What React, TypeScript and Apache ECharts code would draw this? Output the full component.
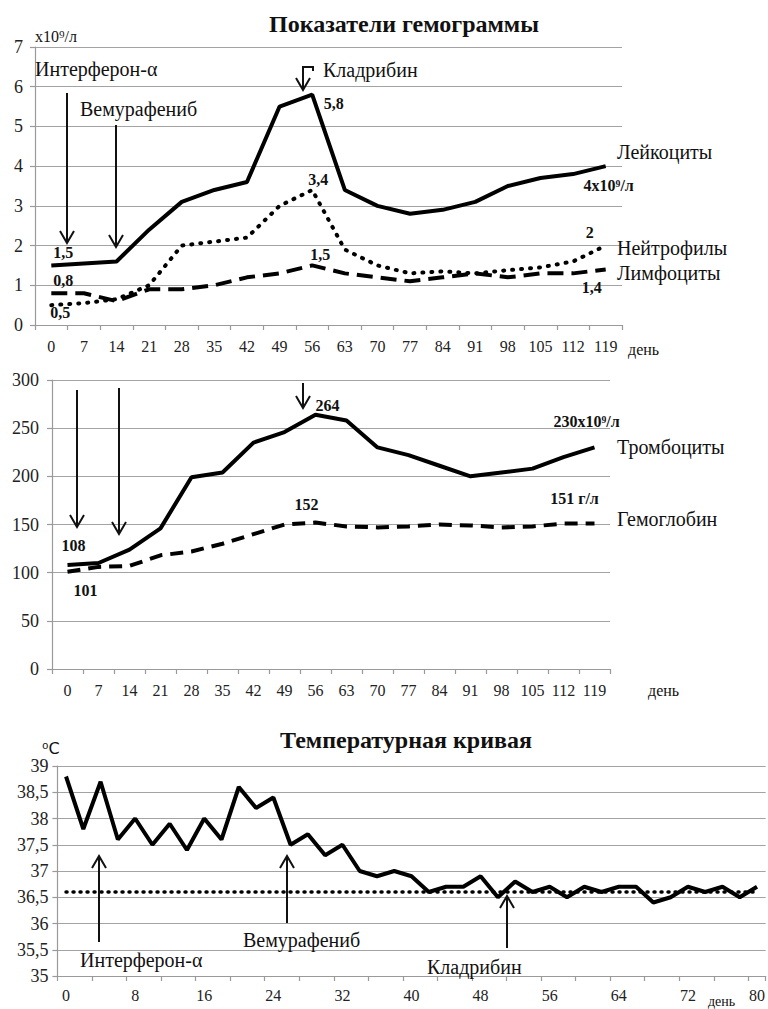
import React, { useEffect, useRef } from "react";
import * as echarts from "echarts";

// ---------- DATA ----------
const hemoDays = ["0", "7", "14", "21", "28", "35", "42", "49", "56", "63", "70", "77", "84", "91", "98", "105", "112", "119"];
const leukocytes = [1.5, 1.55, 1.6, 2.4, 3.1, 3.4, 3.6, 5.5, 5.8, 3.4, 3.0, 2.8, 2.9, 3.1, 3.5, 3.7, 3.8, 4.0];
const neutrophils = [0.5, 0.55, 0.65, 1.0, 2.0, 2.1, 2.2, 3.0, 3.4, 1.9, 1.5, 1.3, 1.35, 1.3, 1.38, 1.45, 1.6, 2.0];
const lymphocytes = [0.8, 0.8, 0.6, 0.9, 0.9, 1.0, 1.2, 1.3, 1.5, 1.3, 1.2, 1.1, 1.2, 1.3, 1.2, 1.3, 1.3, 1.4];
const platelets = [108, 110, 124, 146, 199, 204, 235, 246, 264, 258, 230, 222, 211, 200, 204, 208, 220, 230];
const hemoglobin = [101, 106, 107, 118, 122, 130, 140, 150, 152, 148, 147, 148, 150, 149, 147, 148, 151, 151];

const tempDays = ["0", "2", "4", "6", "8", "10", "12", "14", "16", "18", "20", "22", "24", "26", "28", "30", "32", "34", "36", "38", "40", "42", "44", "46", "48", "50", "52", "54", "56", "58", "60", "62", "64", "66", "68", "70", "72", "74", "76", "78", "80"];
const temperature = [38.8, 37.8, 38.7, 37.6, 38.0, 37.5, 37.9, 37.4, 38.0, 37.6, 38.6, 38.2, 38.4, 37.5, 37.7, 37.3, 37.5, 37.0, 36.9, 37.0, 36.9, 36.6, 36.7, 36.7, 36.9, 36.5, 36.8, 36.6, 36.7, 36.5, 36.7, 36.6, 36.7, 36.7, 36.4, 36.5, 36.7, 36.6, 36.7, 36.5, 36.7];
const normalTemp = 36.6;

// value labels: [series, dataIndex, text]
const valueLabels: [string, number, string][] = [
  ["leuk", 0, "1,5"],
  ["leuk", 8, "5,8"],
  ["leuk", 17, "4x10⁹/л"],
  ["neut", 0, "0,5"],
  ["neut", 8, "3,4"],
  ["neut", 17, "2"],
  ["lymph", 0, "0,8"],
  ["lymph", 8, "1,5"],
  ["lymph", 17, "1,4"],
  ["plt", 0, "108"],
  ["plt", 8, "264"],
  ["plt", 17, "230x10⁹/л"],
  ["hb", 0, "101"],
  ["hb", 8, "152"],
  ["hb", 17, "151 г/л"],
];

// ---------- STYLE ----------
const SERIF = "Liberation Serif, Times New Roman, serif";
const GRID_COLOR = "#a3a3a3";
const AXIS_COLOR = "#9a9a9a";

const labelPlacement: Record<string, { position: string; offset: number[] }> = {
  "leuk-0": { position: "top", offset: [12, 1] },
  "leuk-8": { position: "right", offset: [6, 9] },
  "leuk-17": { position: "bottom", offset: [3, 6] },
  "neut-0": { position: "bottom", offset: [9, -6] },
  "neut-8": { position: "top", offset: [6, 3] },
  "neut-17": { position: "top", offset: [-16, 0] },
  "lymph-0": { position: "top", offset: [12, 1] },
  "lymph-8": { position: "top", offset: [8, 3] },
  "lymph-17": { position: "bottom", offset: [-14, 5] },
  "plt-0": { position: "top", offset: [6, -6] },
  "plt-8": { position: "top", offset: [12, 4] },
  "plt-17": { position: "top", offset: [-8, -12] },
  "hb-0": { position: "bottom", offset: [18, 5] },
  "hb-8": { position: "top", offset: [-9, -5] },
  "hb-17": { position: "top", offset: [-20, -12] },
};

function buildData(key: string, values: number[]) {
  return values.map((v, i) => {
    const lab = valueLabels.find((l) => l[0] === key && l[1] === i);
    if (!lab) return v;
    const p = labelPlacement[key + "-" + i];
    return {
      value: v,
      label: {
        show: true,
        formatter: lab[2],
        position: p.position,
        offset: p.offset,
        fontFamily: SERIF,
        fontWeight: "bold",
        fontSize: 16,
        color: "#111",
      },
    };
  });
}

function txt(text: string, x: number, y: number, size = 20, opts: any = {}) {
  return {
    type: "text",
    x,
    y,
    style: {
      text,
      font: `${opts.bold ? "bold " : ""}${size}px ${opts.family || SERIF}`,
      fill: "#111",
      textAlign: opts.align || "left",
      align: opts.align || "left",
      textVerticalAlign: "middle",
      verticalAlign: "middle",
    },
    z: 100,
  };
}

function arrow(x: number, y1: number, y2: number) {
  const dir = y2 > y1 ? -1 : 1;
  return [
    {
      type: "line",
      shape: { x1: x, y1, x2: x, y2 },
      style: { stroke: "#111", lineWidth: 2 },
      z: 100,
    },
    {
      type: "polyline",
      shape: { points: [[x - 7, y2 + dir * 12], [x, y2], [x + 7, y2 + dir * 12]] },
      style: { stroke: "#111", lineWidth: 2, fill: null },
      z: 100,
    },
  ];
}

const hiddenSymbol = {
  showSymbol: true,
  symbol: "circle",
  symbolSize: 1,
  itemStyle: { color: "rgba(0,0,0,0)" },
  emphasis: { disabled: true },
};

export default function App() {
  const ref = useRef<HTMLDivElement>(null);

  useEffect(() => {
    if (!ref.current) return;
    const chart = echarts.init(ref.current, null, { renderer: "svg" });

    const commonX = (data: string[], gridIndex: number, extra: any = {}) => ({
      type: "category",
      gridIndex,
      data,
      boundaryGap: true,
      axisLine: { show: true, lineStyle: { color: AXIS_COLOR, width: 1.2 } },
      axisTick: { show: true, length: 5, interval: 0, lineStyle: { color: AXIS_COLOR, width: 1.2 }, ...(extra.tick || {}) },
      axisLabel: {
        fontFamily: SERIF,
        fontSize: 16,
        color: "#222",
        margin: 13,
        interval: 0,
        ...(extra.label || {}),
      },
      splitLine: { show: false },
    });

    const commonY = (gridIndex: number, min: number, max: number, interval: number, extra: any = {}) => ({
      type: "value",
      gridIndex,
      min,
      max,
      interval,
      axisLine: { show: true, lineStyle: { color: AXIS_COLOR, width: 1.2 } },
      axisTick: { show: true, length: 5, lineStyle: { color: AXIS_COLOR, width: 1.2 } },
      axisLabel: {
        fontFamily: SERIF,
        fontSize: 18,
        color: "#222",
        margin: 10,
        formatter: (v: number) => String(v).replace(".", ","),
        ...(extra.label || {}),
      },
      splitLine: { show: true, lineStyle: { color: GRID_COLOR, width: 1.2 } },
    });

    const graphics: any[] = [
      txt("Показатели гемограммы", 404, 24, 24, { bold: true, align: "center" }),
      txt("x10⁹/л", 35, 36, 16),
      txt("Интерферон-α", 35, 69, 20),
      txt("Вемурафениб", 80, 109, 20),
      txt("Кладрибин", 323, 70, 20),
      txt("Лейкоциты", 617, 152, 20),
      txt("Нейтрофилы", 617, 248, 20),
      txt("Лимфоциты", 617, 273, 20),
      txt("день", 628, 349, 16),
      ...arrow(67, 93, 243),
      ...arrow(116, 125, 247),
      {
        type: "polyline",
        shape: { points: [[313, 71], [313, 67], [303, 67], [303, 89]] },
        style: { stroke: "#111", lineWidth: 2, fill: null },
        z: 100,
      },
      {
        type: "polyline",
        shape: { points: [[296, 78], [303, 90], [310, 78]] },
        style: { stroke: "#111", lineWidth: 2, fill: null },
        z: 100,
      },
      txt("Тромбоциты", 617, 447, 20),
      txt("Гемоглобин", 617, 519, 20),
      txt("день", 648, 690, 16),
      ...arrow(77, 390, 527),
      ...arrow(119, 388, 534),
      ...arrow(303, 383, 408),
      txt("Температурная кривая", 406, 740, 24, { bold: true, align: "center" }),
      txt("⁰C", 42, 748, 16, { family: "DejaVu Sans, sans-serif" }),
      txt("Интерферон-α", 80, 960, 20),
      txt("Вемурафениб", 243, 940, 20),
      txt("Кладрибин", 427, 967, 20),
      txt("день", 708, 1001, 14),
      ...arrow(99, 942, 856),
      ...arrow(287, 923, 856),
      ...arrow(507, 948, 896),
    ];

    const option: any = {
      animation: false,
      backgroundColor: "#ffffff",
      grid: [
        { left: 35, top: 47, width: 587, height: 278 },
        { left: 52, top: 380, width: 558, height: 289 },
        { left: 57.4, top: 766, width: 709.3, height: 210 },
      ],
      xAxis: [
        commonX(hemoDays, 0),
        commonX(hemoDays, 1),
        commonX(tempDays, 2, { tick: { interval: 1 }, label: { interval: 3, margin: 11 } }),
      ],
      yAxis: [
        commonY(0, 0, 7, 1, { label: { margin: 12 } }),
        commonY(1, 0, 300, 50, { label: { margin: 13 } }),
        commonY(2, 35, 39, 0.5, { label: { margin: 9 } }),
      ],
      series: [
        {
          name: "Лейкоциты",
          type: "line",
          xAxisIndex: 0,
          yAxisIndex: 0,
          data: buildData("leuk", leukocytes),
          ...hiddenSymbol,
          lineStyle: { color: "#000", width: 4 },
          z: 5,
        },
        {
          name: "Нейтрофилы",
          type: "line",
          xAxisIndex: 0,
          yAxisIndex: 0,
          data: buildData("neut", neutrophils),
          ...hiddenSymbol,
          lineStyle: { color: "#000", width: 4, type: [1, 8], cap: "round" },
          z: 4,
        },
        {
          name: "Лимфоциты",
          type: "line",
          xAxisIndex: 0,
          yAxisIndex: 0,
          data: buildData("lymph", lymphocytes),
          ...hiddenSymbol,
          lineStyle: { color: "#000", width: 4, type: [16, 8] },
          z: 3,
        },
        {
          name: "Тромбоциты",
          type: "line",
          xAxisIndex: 1,
          yAxisIndex: 1,
          data: buildData("plt", platelets),
          ...hiddenSymbol,
          lineStyle: { color: "#000", width: 4 },
        },
        {
          name: "Гемоглобин",
          type: "line",
          xAxisIndex: 1,
          yAxisIndex: 1,
          data: buildData("hb", hemoglobin),
          ...hiddenSymbol,
          lineStyle: { color: "#000", width: 4, type: [13, 8] },
        },
        {
          name: "Температура",
          type: "line",
          xAxisIndex: 2,
          yAxisIndex: 2,
          data: temperature,
          showSymbol: false,
          lineStyle: { color: "#000", width: 4 },
          z: 5,
          markLine: {
            silent: true,
            symbol: ["none", "none"],
            label: { show: false },
            lineStyle: { color: "#000", width: 3.5, type: [1, 6], cap: "round" },
            data: [
              [
                { coord: [tempDays[0], normalTemp] },
                { coord: [tempDays[tempDays.length - 1], normalTemp] },
              ],
            ],
          },
        },
      ],
      graphic: graphics,
    };

    chart.setOption(option);
    return () => chart.dispose();
  }, []);

  return (
    <div
      ref={ref}
      style={{ position: "absolute", left: 0, top: 0, width: 768, height: 1009, background: "#fff" }}
    />
  );
}
